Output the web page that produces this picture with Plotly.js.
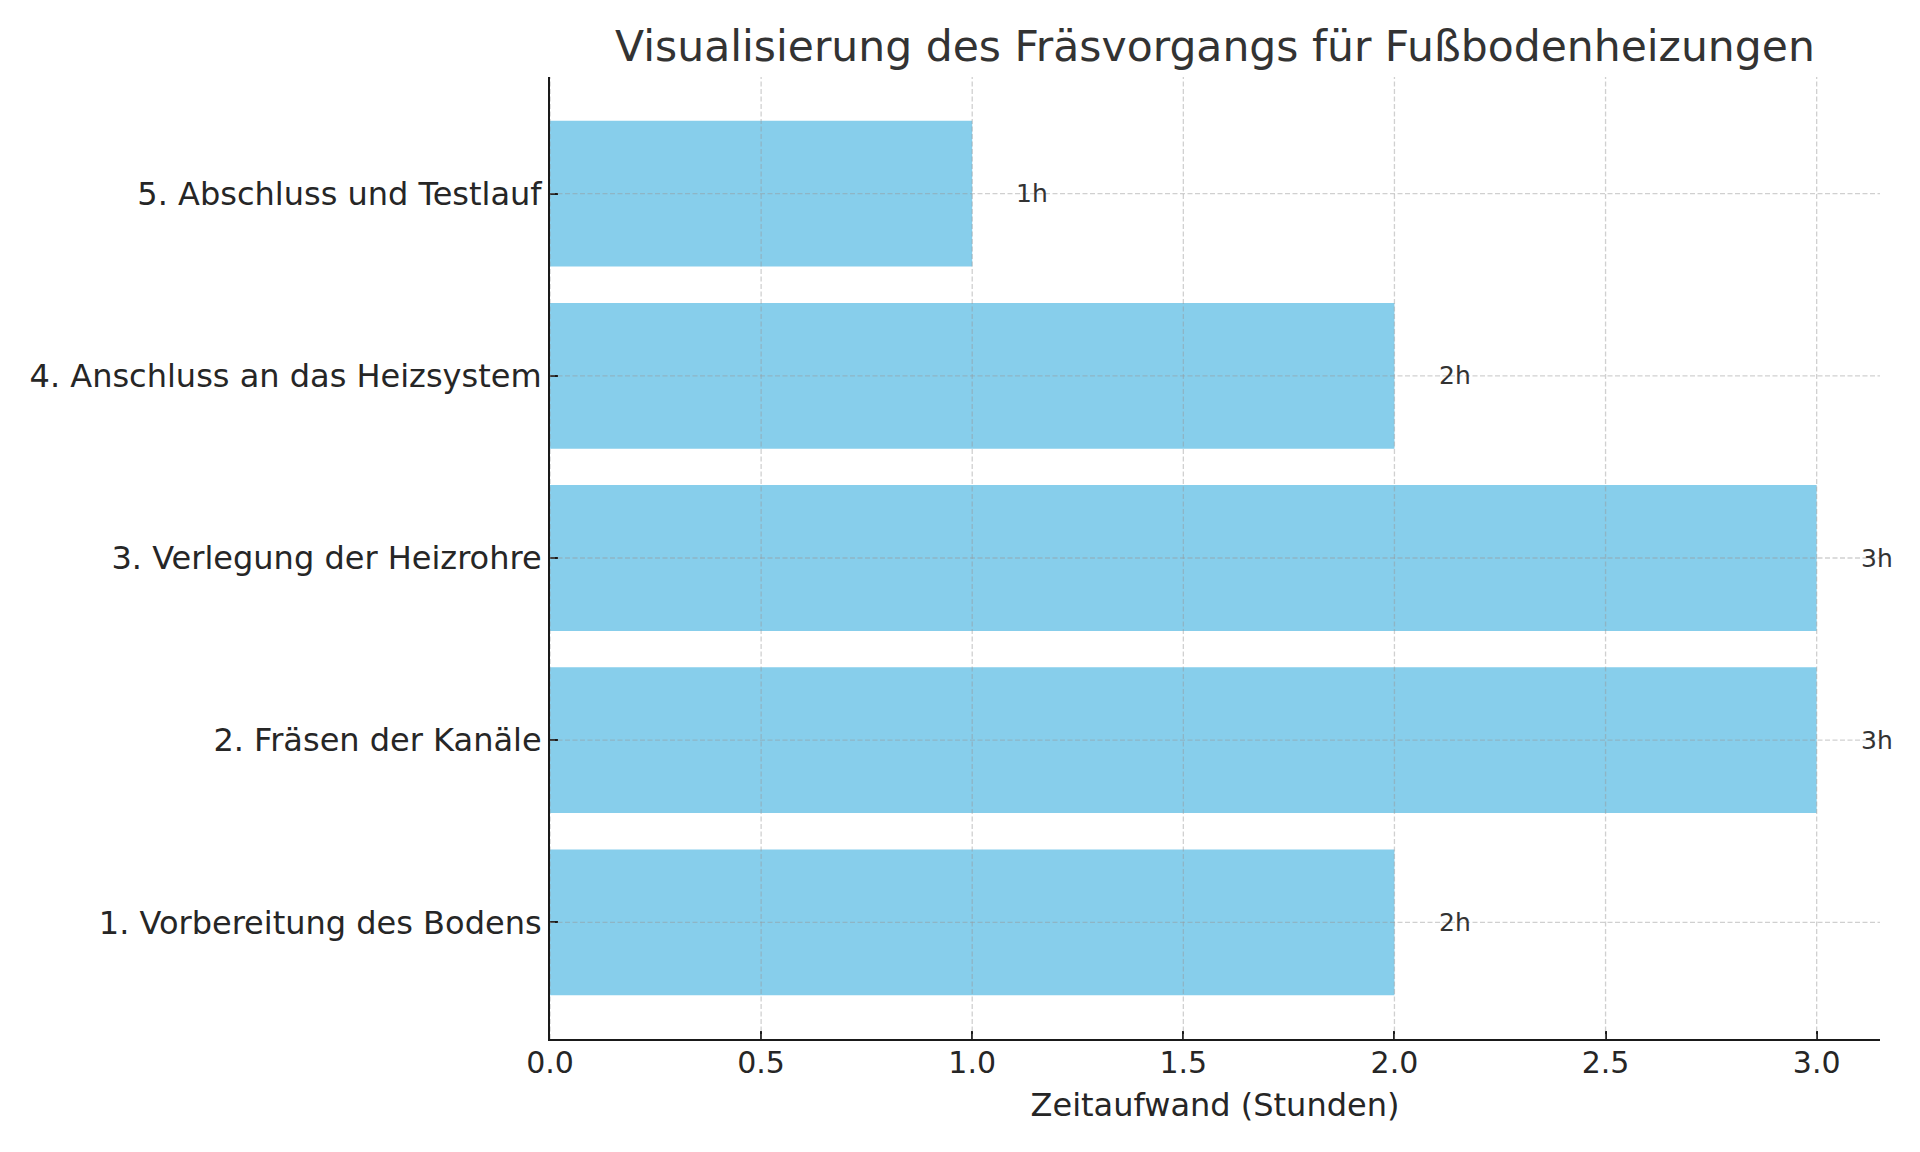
<!DOCTYPE html>
<html>
<head>
<meta charset="utf-8">
<script src="https://cdn.plot.ly/plotly-3.0.1.min.js"></script>
<style>html,body{margin:0;padding:0;background:#fff;}#chart{width:1920px;height:1152px;}</style>
</head>
<body>
<div id="chart"></div>
<script>
const steps = ["1. Vorbereitung des Bodens", "2. Fräsen der Kanäle", "3. Verlegung der Heizrohre", "4. Anschluss an das Heizsystem", "5. Abschluss und Testlauf"];
const hours = [2, 3, 3, 2, 1];
const valueLabels = ["2h", "3h", "3h", "2h", "1h"];
const xTicks = [0.0, 0.5, 1.0, 1.5, 2.0, 2.5, 3.0];
const titleText = "Visualisierung des Fräsvorgangs für Fußbodenheizungen";
const xTitle = "Zeitaufwand (Stunden)";

const font = "DejaVu Sans, sans-serif";
const gridStyle = {color: "rgba(150,150,150,0.45)", width: 1.3, dash: "5px,2.5px"};

const shapes = [];
xTicks.forEach(t => shapes.push({type: "line", layer: "above", xref: "x", yref: "paper", x0: t, x1: t, y0: 0, y1: 1, line: gridStyle}));
steps.forEach(s => shapes.push({type: "line", layer: "above", xref: "paper", yref: "y", x0: 0, x1: 1, y0: s, y1: s, line: gridStyle}));

const annotations = steps.map((s, i) => ({
  x: hours[i] + 0.1, y: s, xref: "x", yref: "y", text: valueLabels[i], showarrow: false,
  xanchor: "left", yanchor: "middle", font: {family: font, size: 25, color: "#333333"}
}));

Plotly.newPlot("chart", [{
  type: "bar", orientation: "h", y: steps, x: hours, width: 0.8,
  marker: {color: "#87CEEB", line: {width: 0}}, hoverinfo: "none"
}], {
  width: 1920, height: 1152,
  paper_bgcolor: "#ffffff", plot_bgcolor: "#ffffff",
  margin: {l: 550, r: 40, t: 77, b: 113},
  title: {text: titleText, x: 0.5 * (550 + 1880) / 1920, xanchor: "center", xref: "container", y: 1 - 46 / 1152, yanchor: "middle", yref: "container", font: {family: font, size: 42.5, color: "#333333"}},
  xaxis: {
    range: [0, 3.15], tickvals: xTicks, ticktext: xTicks.map(v => v.toFixed(1)),
    showgrid: false, zeroline: false, showline: true, linecolor: "#1a1a1a", linewidth: 2,
    ticks: "inside", ticklen: 8, tickwidth: 2, tickcolor: "#1a1a1a", ticklabelstandoff: -4,
    tickfont: {family: font, size: 30, color: "#262626"},
    title: {text: xTitle, font: {family: font, size: 32, color: "#262626"}, standoff: 15}
  },
  yaxis: {
    type: "category", categoryorder: "array", categoryarray: steps, range: [-0.64, 4.64],
    showgrid: false, zeroline: false, showline: true, linecolor: "#1a1a1a", linewidth: 2,
    ticks: "inside", ticklen: 8, tickwidth: 2, tickcolor: "#1a1a1a",
    tickfont: {family: font, size: 32, color: "#262626"}
  },
  shapes: shapes, annotations: annotations, showlegend: false, bargap: 0.2
}, {displayModeBar: false, staticPlot: true});
</script>
</body>
</html>
